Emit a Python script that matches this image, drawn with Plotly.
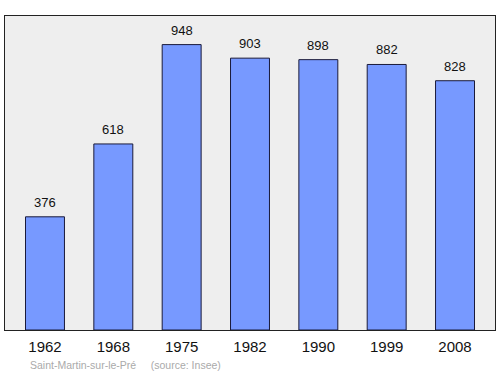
import plotly.graph_objects as go

years = ["1962", "1968", "1975", "1982", "1990", "1999", "2008"]
population = [376, 618, 948, 903, 898, 882, 828]
positions = list(range(len(years)))

FONT = "Liberation Sans, Arial, sans-serif"

fig = go.Figure()
fig.add_trace(go.Bar(
    x=positions, y=population, width=0.57,
    marker=dict(color="#7799ff", line=dict(color="#1a1a3a", width=1)),
    hoverinfo="skip",
))
for p, v in zip(positions, population):
    fig.add_annotation(x=p, y=v, text=str(v), showarrow=False, yanchor="bottom",
                       yshift=5, font=dict(family=FONT, size=13, color="#111"))

fig.add_annotation(xref="paper", yref="paper", x=0.047, y=-0.112, xanchor="left", yanchor="middle",
                   text="Saint-Martin-sur-le-Pré&nbsp;&nbsp;&nbsp;&nbsp;&nbsp;(source: Insee)", showarrow=False,
                   font=dict(family=FONT, size=10.5, color="#aaaaaa"))

fig.update_layout(
    width=500, height=374,
    margin=dict(l=5, r=5, t=16, b=44),
    paper_bgcolor="white", plot_bgcolor="#eeeeee",
    showlegend=False,
    xaxis=dict(range=[-0.585, 6.585], tickvals=positions, ticktext=years, showgrid=False,
               zeroline=False, showline=True, linecolor="#222", linewidth=1, mirror=True,
               ticks="", ticklabelstandoff=3,
               tickfont=dict(family=FONT, size=15, color="#111")),
    yaxis=dict(range=[0, 1043], showticklabels=False, showgrid=False, zeroline=False,
               showline=True, linecolor="#222", linewidth=1, mirror=True, ticks=""),
)
fig.write_html("out.html")
